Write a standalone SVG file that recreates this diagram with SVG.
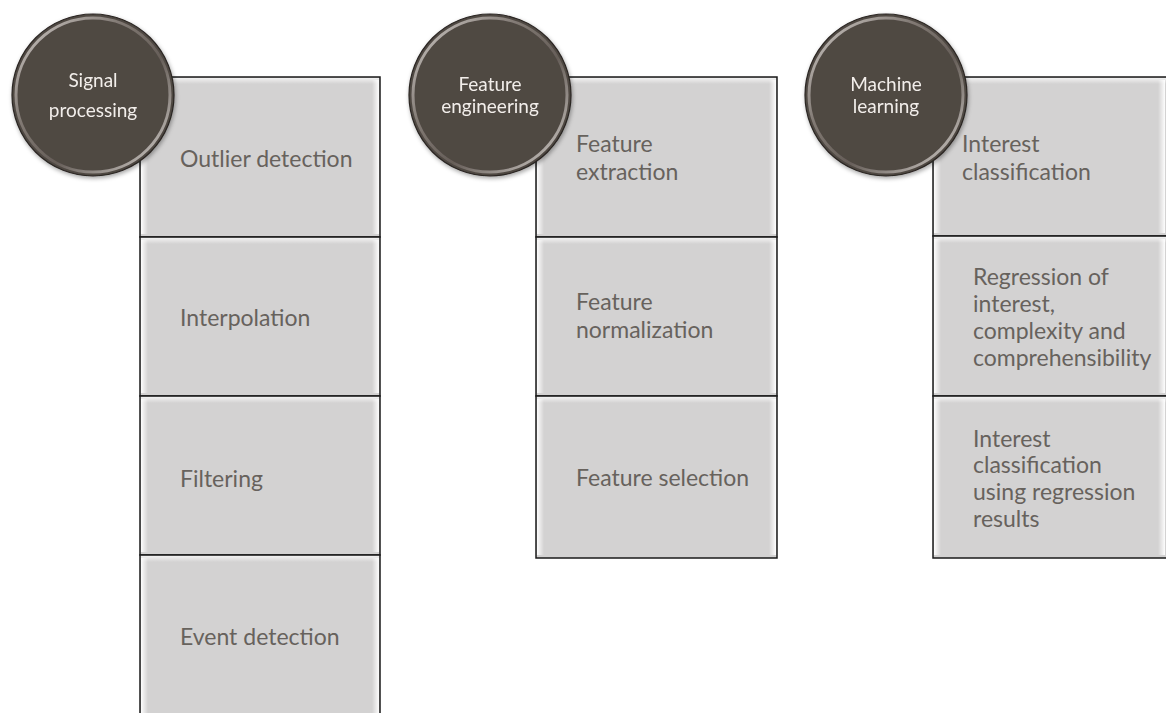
<svg xmlns="http://www.w3.org/2000/svg" width="1166" height="713" viewBox="0 0 1166 713">
<defs>
<linearGradient id="edgeL" x1="0" y1="0" x2="1" y2="0">
<stop offset="0" stop-color="#ffffff" stop-opacity="0.95"/>
<stop offset="1" stop-color="#ffffff" stop-opacity="0"/>
</linearGradient>
<linearGradient id="edgeR" x1="1" y1="0" x2="0" y2="0">
<stop offset="0" stop-color="#ffffff" stop-opacity="0.95"/>
<stop offset="1" stop-color="#ffffff" stop-opacity="0"/>
</linearGradient>
<linearGradient id="edgeT" x1="0" y1="0" x2="0" y2="1">
<stop offset="0" stop-color="#ffffff" stop-opacity="0.7"/>
<stop offset="1" stop-color="#ffffff" stop-opacity="0"/>
</linearGradient>
<linearGradient id="ring" x1="0" y1="0" x2="1" y2="1">
<stop offset="0" stop-color="#e8e4e0"/>
<stop offset="0.35" stop-color="#8a827c"/>
<stop offset="0.6" stop-color="#6a625c"/>
<stop offset="1" stop-color="#f0ece8"/>
</linearGradient>
<filter id="shadow" x="-20%" y="-20%" width="140%" height="140%">
<feDropShadow dx="1" dy="2" stdDeviation="2" flood-color="#000" flood-opacity="0.35"/>
</filter>
</defs>
<style>
.box{fill:#d3d2d2;stroke:#1a1a1a;stroke-width:1.5}
.bl{fill:url(#edgeL)}
.br{fill:url(#edgeR)}
.bt{fill:url(#edgeT)}
.lbl{font-family:Lato,"Open Sans","Liberation Sans",sans-serif;font-size:23px;fill:#67625d}
.disc{fill:#4f4843;stroke:#2a2522;stroke-width:1.2}
.ringc{fill:none;stroke:url(#ring);stroke-width:3;opacity:0.85}
.ctx{font-family:Lato,"Open Sans","Liberation Sans",sans-serif;font-size:19px;fill:#f2eeea;text-anchor:middle}
</style>
<g id="connectors"/>

<!-- Column 1 boxes -->
<g id="box-outlier">
<rect class="box" x="140" y="77" width="240" height="160"/>
<rect class="bl" x="141" y="80" width="7" height="154"/><rect class="br" x="372" y="80" width="7" height="154"/><rect class="bt" x="141" y="78" width="238" height="6"/>
<text class="lbl" x="180" y="167">Outlier detection</text>
</g>
<g id="box-interp">
<rect class="box" x="140" y="237" width="240" height="159"/>
<rect class="bl" x="141" y="240" width="7" height="153"/><rect class="br" x="372" y="240" width="7" height="153"/><rect class="bt" x="141" y="238" width="238" height="6"/>
<text class="lbl" x="180" y="326">Interpolation</text>
</g>
<g id="box-filter">
<rect class="box" x="140" y="396" width="240" height="159"/>
<rect class="bl" x="141" y="399" width="7" height="153"/><rect class="br" x="372" y="399" width="7" height="153"/><rect class="bt" x="141" y="397" width="238" height="6"/>
<text class="lbl" x="180" y="487">Filtering</text>
</g>
<g id="box-event">
<rect class="box" x="140" y="555" width="240" height="162"/>
<rect class="bl" x="141" y="558" width="7" height="156"/><rect class="br" x="372" y="558" width="7" height="156"/><rect class="bt" x="141" y="556" width="238" height="6"/>
<text class="lbl" x="180" y="645">Event detection</text>
</g>

<!-- Column 2 boxes -->
<g id="box-fext">
<rect class="box" x="536" y="77" width="241" height="160"/>
<rect class="bl" x="537" y="80" width="7" height="154"/><rect class="br" x="769" y="80" width="7" height="154"/><rect class="bt" x="537" y="78" width="239" height="6"/>
<text class="lbl" x="576" y="152">Feature</text>
<text class="lbl" x="576" y="180">extraction</text>
</g>
<g id="box-fnorm">
<rect class="box" x="536" y="237" width="241" height="159"/>
<rect class="bl" x="537" y="240" width="7" height="153"/><rect class="br" x="769" y="240" width="7" height="153"/><rect class="bt" x="537" y="238" width="239" height="6"/>
<text class="lbl" x="576" y="310">Feature</text>
<text class="lbl" x="576" y="338">normalization</text>
</g>
<g id="box-fsel">
<rect class="box" x="536" y="396" width="241" height="162"/>
<rect class="bl" x="537" y="399" width="7" height="156"/><rect class="br" x="769" y="399" width="7" height="156"/><rect class="bt" x="537" y="397" width="239" height="6"/>
<text class="lbl" x="576" y="486">Feature selection</text>
</g>

<!-- Column 3 boxes -->
<g id="box-iclass">
<rect class="box" x="933" y="77" width="240" height="159"/>
<rect class="bl" x="934" y="80" width="7" height="153"/><rect class="br" x="1158" y="80" width="7" height="153"/><rect class="bt" x="934" y="78" width="238" height="6"/>
<text class="lbl" x="962" y="152">Interest</text>
<text class="lbl" x="962" y="180">classification</text>
</g>
<g id="box-regr">
<rect class="box" x="933" y="236" width="240" height="160"/>
<rect class="bl" x="934" y="239" width="7" height="154"/><rect class="br" x="1158" y="239" width="7" height="154"/><rect class="bt" x="934" y="237" width="238" height="6"/>
<text class="lbl" x="973" y="285">Regression of</text>
<text class="lbl" x="973" y="312">interest,</text>
<text class="lbl" x="973" y="339">complexity and</text>
<text class="lbl" x="973" y="366">comprehensibility</text>
</g>
<g id="box-iclass-regr">
<rect class="box" x="933" y="396" width="240" height="162"/>
<rect class="bl" x="934" y="399" width="7" height="156"/><rect class="br" x="1158" y="399" width="7" height="156"/><rect class="bt" x="934" y="397" width="238" height="6"/>
<text class="lbl" x="973" y="447">Interest</text>
<text class="lbl" x="973" y="473">classification</text>
<text class="lbl" x="973" y="500">using regression</text>
<text class="lbl" x="973" y="527">results</text>
</g>

<!-- Circles -->
<g id="circle-signal" filter="url(#shadow)">
<circle class="disc" cx="93" cy="95" r="81"/>
<circle class="ringc" cx="93" cy="95" r="77"/>
<text class="ctx" x="93" y="87">Signal</text>
<text class="ctx" x="93" y="117">processing</text>
</g>
<g id="circle-feature" filter="url(#shadow)">
<circle class="disc" cx="490" cy="95" r="81"/>
<circle class="ringc" cx="490" cy="95" r="77"/>
<text class="ctx" x="490" y="91">Feature</text>
<text class="ctx" x="490" y="113">engineering</text>
</g>
<g id="circle-ml" filter="url(#shadow)">
<circle class="disc" cx="886" cy="95" r="81"/>
<circle class="ringc" cx="886" cy="95" r="77"/>
<text class="ctx" x="886" y="91">Machine</text>
<text class="ctx" x="886" y="113">learning</text>
</g>
</svg>
